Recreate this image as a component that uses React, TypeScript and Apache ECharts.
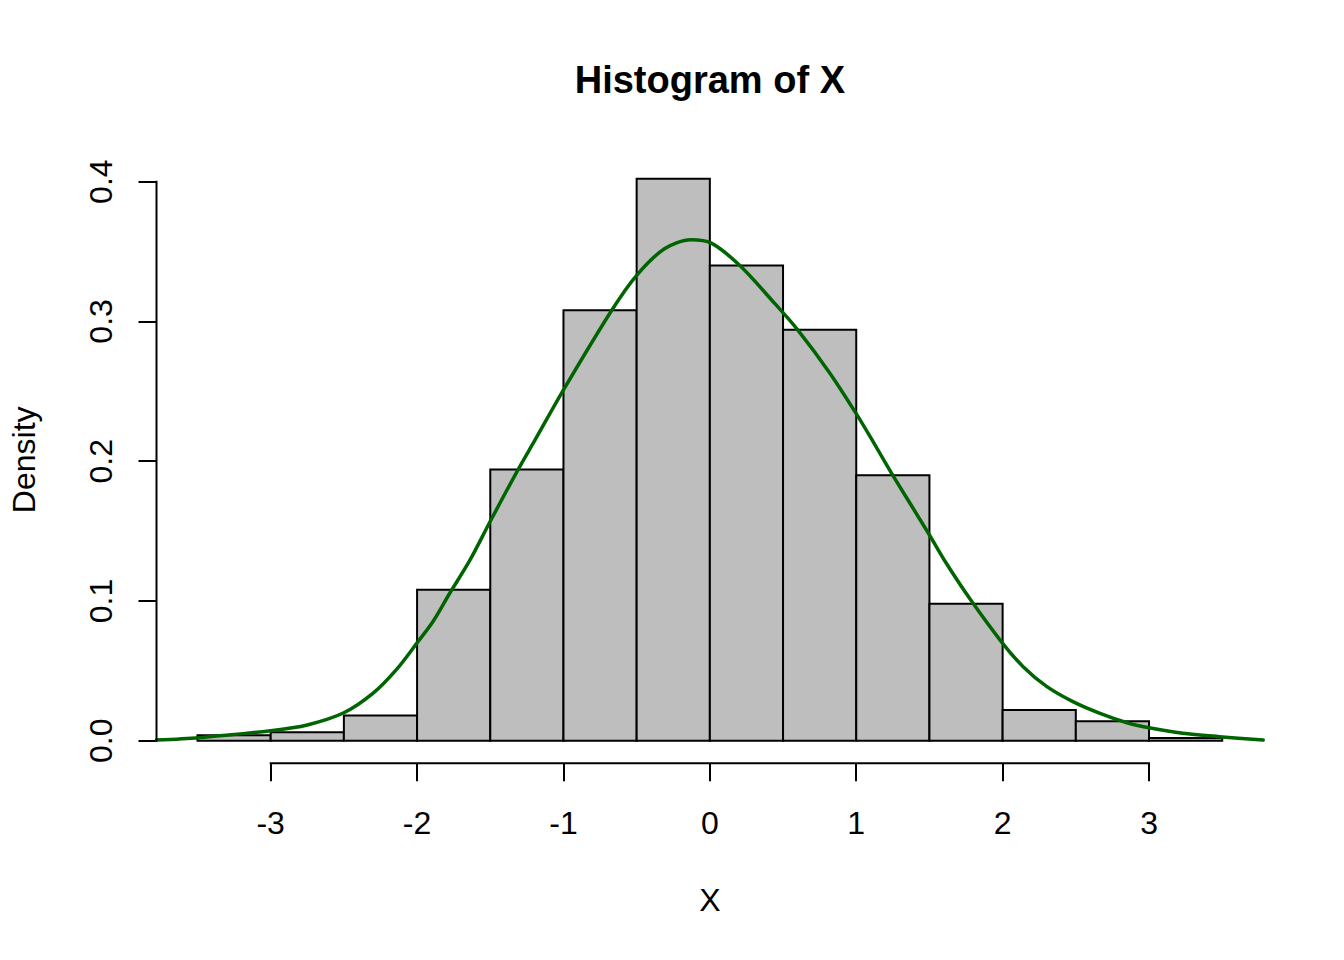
import React, { useEffect, useRef } from "react";
import * as echarts from "echarts";

// Histogram breaks (bin edges) and densities
const breaks = [-3.5, -3, -2.5, -2, -1.5, -1, -0.5, 0, 0.5, 1, 1.5, 2, 2.5, 3, 3.5];
const densities = [0.004, 0.006, 0.018, 0.108, 0.194, 0.308, 0.402, 0.34, 0.294, 0.19, 0.098, 0.022, 0.014, 0.002];

// Kernel density curve
const curveX = [
  -3.78, -3.49, -3.0, -2.75, -2.5, -2.3, -2.14, -2.0, -1.89, -1.78, -1.64, -1.5, -1.31, -1.195, -1.0,
  -0.67, -0.5, -0.31, -0.13, 0.01, 0.205, 0.425, 0.6, 0.82, 1.0, 1.115, 1.255, 1.49, 1.6, 1.78, 2.0,
  2.14, 2.3, 2.48, 2.665, 2.85, 3.0, 3.23, 3.48, 3.78,
];
const curveY = [
  0.0005, 0.0022, 0.0072, 0.0113, 0.02, 0.034, 0.051, 0.07, 0.0855, 0.105, 0.129, 0.157, 0.194, 0.215, 0.251,
  0.308, 0.333, 0.352, 0.3585, 0.356, 0.34, 0.315, 0.294, 0.263, 0.234, 0.214, 0.189, 0.149, 0.1295, 0.101, 0.0697,
  0.053, 0.0389, 0.028, 0.0196, 0.0129, 0.0093, 0.0053, 0.0029, 0.0005,
];

const xTicks = [-3, -2, -1, 0, 1, 2, 3];
const yTicks = [0, 0.1, 0.2, 0.3, 0.4];
const titleText = "Histogram of X";
const xName = "X";
const yName = "Density";

export default function App() {
  const ref = useRef<HTMLDivElement>(null);

  useEffect(() => {
    const chart = echarts.init(ref.current as HTMLDivElement, null, { renderer: "svg" });
    const span = breaks[breaks.length - 1] - breaks[0];
    const xMin = breaks[0] - 0.04 * span;
    const xMax = breaks[breaks.length - 1] + 0.04 * span;
    const dMax = Math.max(...densities);
    const yMin = -0.04 * dMax;
    const yMax = 1.04 * dMax;
    const font = "'Liberation Sans', Arial, Helvetica, sans-serif";

    const barData = densities.map((d, i) => [breaks[i], breaks[i + 1], d]);
    const curveData = curveX.map((x, i) => [x, curveY[i]]);

    const gridLeft = 156.5;
    const gridRight = 80.8;
    const gridTop = 156.4;
    const gridBottom = 196.8;
    const centerX = gridLeft + (1344 - gridLeft - gridRight) / 2;

    chart.setOption({
      animation: false,
      backgroundColor: "#ffffff",
      title: {
        text: titleText,
        left: centerX,
        top: 60.5,
        padding: 0,
        textAlign: "center",
        textStyle: {
          fontFamily: font,
          fontWeight: "bold",
          fontSize: 38,
          lineHeight: 38,
          color: "#000",
        },
      },
      grid: {
        left: gridLeft,
        right: gridRight,
        top: gridTop,
        bottom: gridBottom,
        containLabel: false,
      },
      xAxis: {
        type: "value",
        min: xMin,
        max: xMax,
        name: xName,
        nameLocation: "middle",
        nameGap: 136.3,
        nameTextStyle: {
          fontFamily: font,
          fontSize: 32,
          color: "#000",
          align: "center",
          verticalAlign: "middle",
        },
        axisLine: { show: false, onZero: false },
        axisTick: {
          show: true,
          customValues: xTicks,
          length: 18,
          inside: false,
          lineStyle: { color: "#000", width: 2 },
        },
        axisLabel: {
          show: true,
          customValues: xTicks,
          margin: 59.5,
          fontFamily: font,
          fontSize: 32,
          color: "#000",
          align: "center",
          verticalAlign: "middle",
          formatter: (v: number) => String(v),
        },
        splitLine: { show: false },
      },
      yAxis: {
        type: "value",
        min: yMin,
        max: yMax,
        name: yName,
        nameLocation: "middle",
        nameGap: 132.2,
        nameTextStyle: {
          fontFamily: font,
          fontSize: 32,
          color: "#000",
          align: "center",
          verticalAlign: "middle",
        },
        axisLine: { show: false, onZero: false },
        axisTick: {
          show: true,
          customValues: yTicks,
          length: 18,
          inside: false,
          lineStyle: { color: "#000", width: 2 },
        },
        axisLabel: {
          show: true,
          customValues: yTicks,
          rotate: 90,
          margin: 56,
          fontFamily: font,
          fontSize: 32,
          color: "#000",
          align: "center",
          verticalAlign: "middle",
          formatter: (v: number) => v.toFixed(1),
        },
        splitLine: { show: false },
      },
      series: [
        {
          type: "custom",
          name: "bars",
          silent: true,
          z: 2,
          encode: { x: [0, 1], y: 2 },
          data: barData,
          renderItem: (params: any, api: any) => {
            const x0 = api.value(0);
            const x1 = api.value(1);
            const d = api.value(2);
            const p0 = api.coord([x0, d]);
            const p1 = api.coord([x1, 0]);
            return {
              type: "rect",
              shape: { x: p0[0], y: p0[1], width: p1[0] - p0[0], height: p1[1] - p0[1] },
              style: { fill: "#BEBEBE", stroke: "#000000", lineWidth: 2 },
            };
          },
        },
        {
          type: "line",
          name: "density",
          silent: true,
          z: 3,
          data: curveData,
          showSymbol: false,
          smooth: 0.3,
          lineStyle: { color: "#006400", width: 3.5, cap: "round", join: "round" },
          itemStyle: { color: "#006400" },
        },
        {
          type: "custom",
          name: "axes",
          silent: true,
          clip: false,
          z: 4,
          data: [[0, 0]],
          renderItem: (params: any, api: any) => {
            const a = api.coord([xTicks[0], yMin]);
            const b = api.coord([xTicks[xTicks.length - 1], yMin]);
            const c = api.coord([xMin, yTicks[0]]);
            const d = api.coord([xMin, yTicks[yTicks.length - 1]]);
            return {
              type: "group",
              children: [
                {
                  type: "line",
                  shape: { x1: a[0] - 1, y1: a[1], x2: b[0] + 1, y2: b[1] },
                  style: { stroke: "#000", lineWidth: 2 },
                },
                {
                  type: "line",
                  shape: { x1: c[0], y1: c[1] + 1, x2: d[0], y2: d[1] - 1 },
                  style: { stroke: "#000", lineWidth: 2 },
                },
              ],
            };
          },
        },
      ],
    });

    return () => {
      chart.dispose();
    };
  }, []);

  return (
    <div
      ref={ref}
      style={{ position: "fixed", left: 0, top: 0, width: 1344, height: 960, background: "#fff" }}
    />
  );
}
